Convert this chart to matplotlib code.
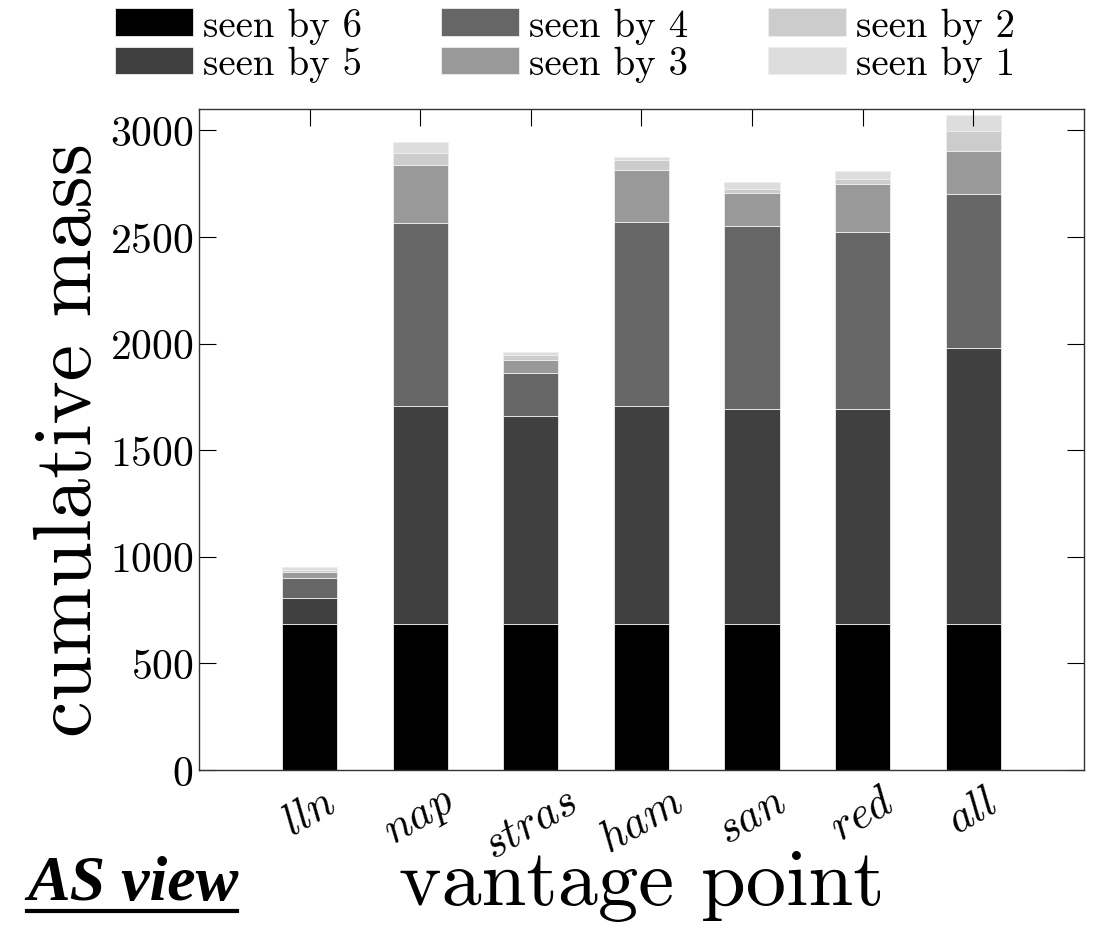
import numpy as np
import matplotlib
matplotlib.use("Agg")
import matplotlib.pyplot as plt
from matplotlib.lines import Line2D

plt.rcParams['font.family'] = 'serif'
plt.rcParams['font.serif'] = ['cmr10', 'DejaVu Serif']
plt.rcParams['mathtext.fontset'] = 'cm'
plt.rcParams['axes.formatter.use_mathtext'] = True

# vantage points and stacked mass per "seen by" group
vantage = ['lln', 'nap', 'stras', 'ham', 'san', 'red', 'all']
seen6 = [683, 683, 683, 683, 683, 683, 683]
seen5 = [122, 1022, 976, 1025, 1012, 1009, 1295]
seen4 = [95, 858, 203, 862, 857, 831, 722]
seen3 = [30, 274, 63, 244, 153, 224, 203]
seen2 = [10, 57, 20, 47, 22, 23, 94]
seen1 = [13, 51, 14, 16, 32, 38, 75]

series = [seen6, seen5, seen4, seen3, seen2, seen1]
labels = ['seen by 6', 'seen by 5', 'seen by 4', 'seen by 3', 'seen by 2', 'seen by 1']
colors = ['#000000', '#404040', '#666666', '#999999', '#cccccc', '#dddddd']

fig = plt.figure(figsize=(10.97, 9.37), dpi=100)
ax = fig.add_axes([0.1814, 0.1772, 0.8066, 0.7054])

x = np.arange(1, len(vantage) + 1)
bottom = np.zeros(len(vantage))
for vals, lab, col in zip(series, labels, colors):
    ax.bar(x, vals, 0.5, bottom=bottom, color=col, label=lab,
           edgecolor='#eeeeee', linewidth=0.6)
    bottom += np.array(vals)

ax.set_xlim(0, 8)
ax.set_ylim(0, 3100)
ax.set_yticks(np.arange(0, 3001, 500))
ax.set_xticks(x)
ax.set_xticklabels(['$' + v + '$' for v in vantage], rotation=30, fontsize=32)
ax.tick_params(axis='y', labelsize=30, direction='in', length=12, right=True, pad=4)
ax.tick_params(axis='x', direction='in', length=12, top=True, pad=8)
for s in ax.spines.values():
    s.set_linewidth(1.0)
    s.set_color('#333333')

ax.set_ylabel('cumulative mass', fontsize=59, labelpad=2)
ax.set_xlabel('vantage point', fontsize=58, labelpad=-12)

fig.legend(ncol=3, loc='upper center', bbox_to_anchor=(565 / 1097, 1.016),
           frameon=False, fontsize=28, handlelength=2.0, handleheight=0.72,
           columnspacing=2.05, labelspacing=0.05, handletextpad=0.26,
           borderpad=0.1)

fig.text(0.025, 0.0395, 'AS view', fontsize=46, fontweight='bold', style='italic',
         family=['Liberation Serif', 'DejaVu Serif'])
fig.add_artist(Line2D([0.025, 0.216], [0.027, 0.027], transform=fig.transFigure,
                      color='black', linewidth=3))

fig.savefig('out.png', dpi=100)
